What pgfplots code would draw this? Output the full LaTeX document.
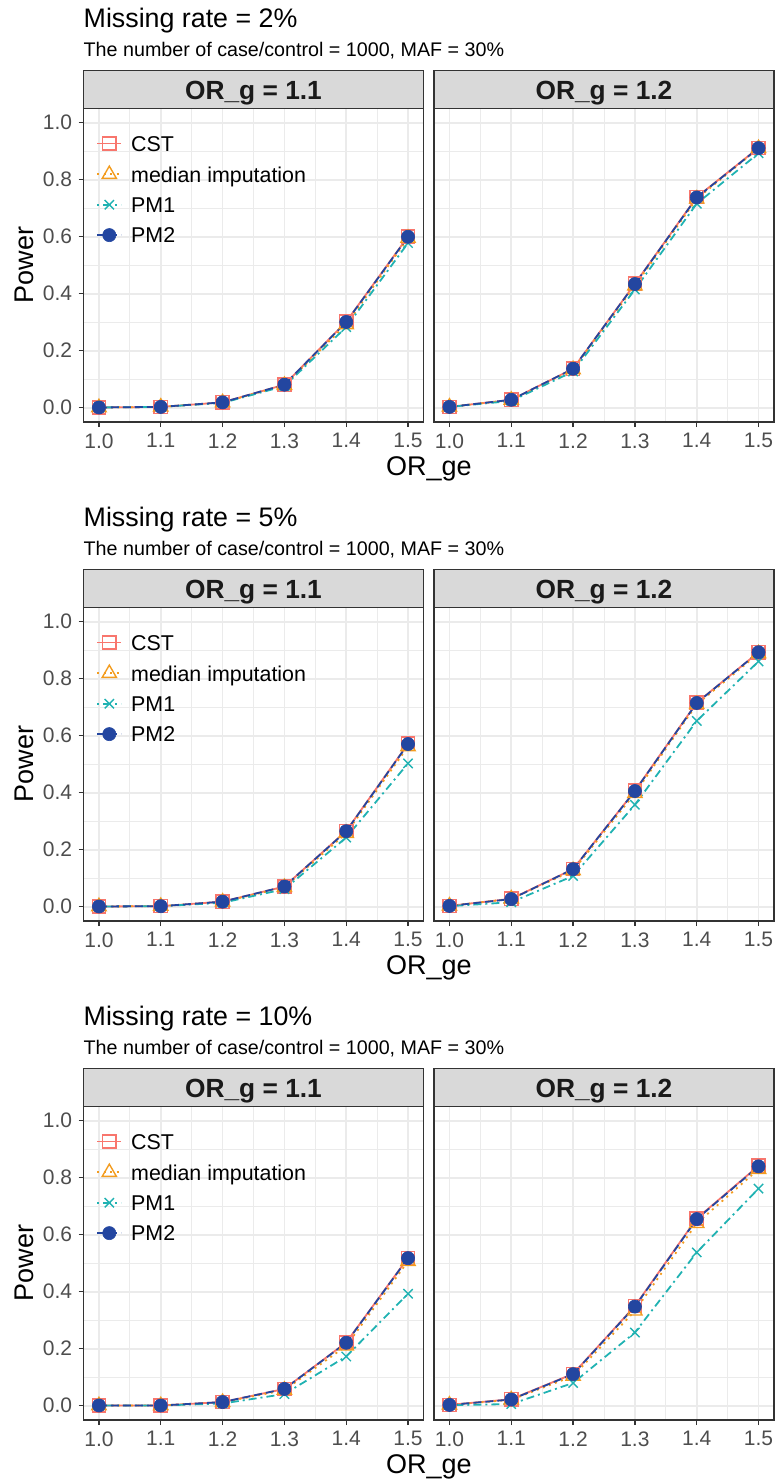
\documentclass[border=0pt]{standalone}
\usepackage{fontspec}
\setmainfont{Liberation Sans}
\usepackage{pgfplots}
\usepackage{pgfplotstable}
\pgfplotsset{compat=1.18}

\definecolor{cstc}{HTML}{F8766D}
\definecolor{medc}{HTML}{F39C1F}
\definecolor{pm1c}{HTML}{20B2B2}
\definecolor{pm2c}{HTML}{2346A0}
\definecolor{gray92}{HTML}{EBEBEB}
\definecolor{gray85}{HTML}{D9D9D9}
\definecolor{gray20}{HTML}{333333}
\definecolor{gray30}{HTML}{4D4D4D}
\definecolor{gray10}{HTML}{1A1A1A}

% Missing rate 2%
\pgfplotstableread{
x cst med pm1 pm2
1.0 0.001 0.001 0.001 0.001
1.1 0.003 0.003 0.003 0.003
1.2 0.019 0.018 0.017 0.019
1.3 0.081 0.079 0.076 0.081
1.4 0.302 0.292 0.283 0.301
1.5 0.601 0.595 0.578 0.600
}\tAL
\pgfplotstableread{
x cst med pm1 pm2
1.0 0.003 0.003 0.003 0.003
1.1 0.028 0.027 0.024 0.028
1.2 0.137 0.134 0.127 0.137
1.3 0.435 0.428 0.415 0.434
1.4 0.739 0.733 0.716 0.738
1.5 0.912 0.910 0.893 0.911
}\tAR
% Missing rate 5%
\pgfplotstableread{
x cst med pm1 pm2
1.0 0.001 0.001 0.001 0.001
1.1 0.002 0.002 0.002 0.002
1.2 0.018 0.017 0.014 0.018
1.3 0.071 0.068 0.062 0.071
1.4 0.266 0.258 0.243 0.265
1.5 0.572 0.562 0.503 0.571
}\tBL
\pgfplotstableread{
x cst med pm1 pm2
1.0 0.003 0.003 0.002 0.003
1.1 0.028 0.028 0.016 0.027
1.2 0.132 0.127 0.108 0.132
1.3 0.407 0.398 0.358 0.406
1.4 0.716 0.710 0.652 0.715
1.5 0.893 0.888 0.861 0.893
}\tBR
% Missing rate 10%
\pgfplotstableread{
x cst med pm1 pm2
1.0 0.001 0.001 0.001 0.001
1.1 0.001 0.001 0.001 0.001
1.2 0.013 0.012 0.008 0.013
1.3 0.059 0.055 0.041 0.059
1.4 0.222 0.210 0.173 0.221
1.5 0.519 0.507 0.393 0.518
}\tCL
\pgfplotstableread{
x cst med pm1 pm2
1.0 0.003 0.003 0.002 0.003
1.1 0.023 0.021 0.006 0.022
1.2 0.112 0.104 0.080 0.111
1.3 0.350 0.333 0.257 0.348
1.4 0.657 0.640 0.538 0.655
1.5 0.842 0.830 0.762 0.840
}\tCR

\pgfplotsset{
  cst/.style={color=cstc, line width=0.9pt, solid, mark=square, mark size=3.3pt, mark options={solid, line width=0.7pt, fill=none}},
  med/.style={color=medc, line width=0.9pt, dash pattern=on 1pt off 2.2pt, mark=triangle, mark size=4.1pt, mark options={solid, line width=0.7pt, fill=none}},
  pm1/.style={color=pm1c, line width=0.9pt, dash pattern=on 1pt off 2pt on 4pt off 2pt, mark=x, mark size=3.3pt, mark options={solid, line width=0.7pt}},
  pm2/.style={color=pm2c, line width=0.9pt, dash pattern=on 4pt off 2pt, mark=*, mark size=3.3pt, mark options={solid, line width=0.3pt, fill=pm2c, draw=pm2c}},
  gg/.style={
    scale only axis, width=170pt, height=156.75pt,
    xmin=0.975, xmax=1.525, ymin=-0.05, ymax=1.05,
    xtick={1,1.1,1.2,1.3,1.4,1.5}, ytick={0,0.2,0.4,0.6,0.8,1},
    minor xtick={1.05,1.15,1.25,1.35,1.45}, minor ytick={0.1,0.3,0.5,0.7,0.9},
    grid=both,
    major grid style={color=gray92, line width=0.8pt},
    minor grid style={color=gray92, line width=0.45pt},
    axis line style={color=gray20, line width=0.7pt},
    tick align=outside, tick pos=left,
    major tick length=2.5pt, minor tick length=0pt,
    tick style={color=gray20, line width=0.6pt},
    ticklabel style={font=\fontsize{10.5}{12}\selectfont, text=gray30, inner sep=0pt},
    xticklabel style={/pgf/number format/fixed, /pgf/number format/fixed zerofill, /pgf/number format/precision=1, yshift=-3pt},
    yticklabel style={/pgf/number format/fixed, /pgf/number format/fixed zerofill, /pgf/number format/precision=1, xshift=-3pt},
    scaled ticks=false,
    /pgf/number format/assume math mode=true,
    legend image code/.code={\draw[mark repeat=2, mark phase=2, ##1] plot coordinates {(0pt,0pt) (6pt,0pt) (12pt,0pt)};},
    legend style={at={(0.0368,0.9145)}, anchor=north west, draw=none, fill=none, inner sep=0pt,
      font=\fontsize{10.7}{12}\selectfont, row sep=7.5pt, column sep=4.5pt,
      nodes={inner sep=0pt, text height=7.7pt, text depth=0pt, anchor=west}},
    legend cell align=left,
  },
}

\newcommand{\facetplots}[1]{%
  \addplot[cst, no markers, forget plot] table[x=x, y=cst] {#1};
  \addplot[med, no markers, forget plot] table[x=x, y=med] {#1};
  \addplot[pm1, no markers, forget plot] table[x=x, y=pm1] {#1};
  \addplot[pm2, no markers, forget plot] table[x=x, y=pm2] {#1};
  \addplot[cst, only marks, forget plot] table[x=x, y=cst] {#1};
  \addplot[med, only marks, forget plot] table[x=x, y=med] {#1};
  \addplot[pm1, only marks, forget plot] table[x=x, y=pm1] {#1};
  \addplot[pm2, only marks, forget plot] table[x=x, y=pm2] {#1};
}

\newcommand{\facetrow}[4]{%
  \node[anchor=base west, inner sep=0pt, font=\fontsize{13.4}{15}\selectfont] at (41.65pt,{-13.65pt-#1pt}) {Missing rate = #2\%};
  \node[anchor=base west, inner sep=0pt, font=\fontsize{9.85}{12}\selectfont] at (41.65pt,{-28.35pt-#1pt}) {The number of case/control = 1000, MAF = 30\%};
  \draw[fill=gray85, draw=gray20, line width=0.6pt] (41.75pt,{-35.35pt-#1pt}) rectangle (211.75pt,{-54.25pt-#1pt});
  \draw[fill=gray85, draw=gray20, line width=0.6pt] (217pt,{-35.35pt-#1pt}) rectangle (387pt,{-54.25pt-#1pt});
  \node[anchor=base, inner sep=0pt, text=gray10, font=\bfseries\fontsize{13.15}{15}\selectfont] at (126.75pt,{-49.5pt-#1pt}) {OR\_g = 1.1};
  \node[anchor=base, inner sep=0pt, text=gray10, font=\bfseries\fontsize{13.15}{15}\selectfont] at (302pt,{-49.5pt-#1pt}) {OR\_g = 1.2};
  \begin{axis}[gg, at={(41.75pt,{-211pt-#1pt})}, anchor=south west]
    \facetplots{#3}
    \addlegendimage{cst}
    \addlegendimage{med}
    \addlegendimage{pm1}
    \addlegendimage{pm2}
    \legend{CST, median imputation, PM1, PM2}
  \end{axis}
  \begin{axis}[gg, at={(217pt,{-211pt-#1pt})}, anchor=south west, yticklabels={}, ytick style={draw=none}]
    \facetplots{#4}
  \end{axis}
  \node[rotate=90, inner sep=0pt, font=\fontsize{13.5}{15}\selectfont] at (12pt,{-132.6pt-#1pt}) {Power};
  \node[anchor=base, inner sep=0pt, font=\fontsize{13.5}{15}\selectfont] at (214.4pt,{-237.5pt-#1pt}) {OR\_ge};
}

\begin{document}
\begin{tikzpicture}
  \path[use as bounding box] (0,0) rectangle (389pt,-739.5pt);
  \facetrow{0}{2}{\tAL}{\tAR}
  \facetrow{249.5}{5}{\tBL}{\tBR}
  \facetrow{499}{10}{\tCL}{\tCR}
\end{tikzpicture}
\end{document}
